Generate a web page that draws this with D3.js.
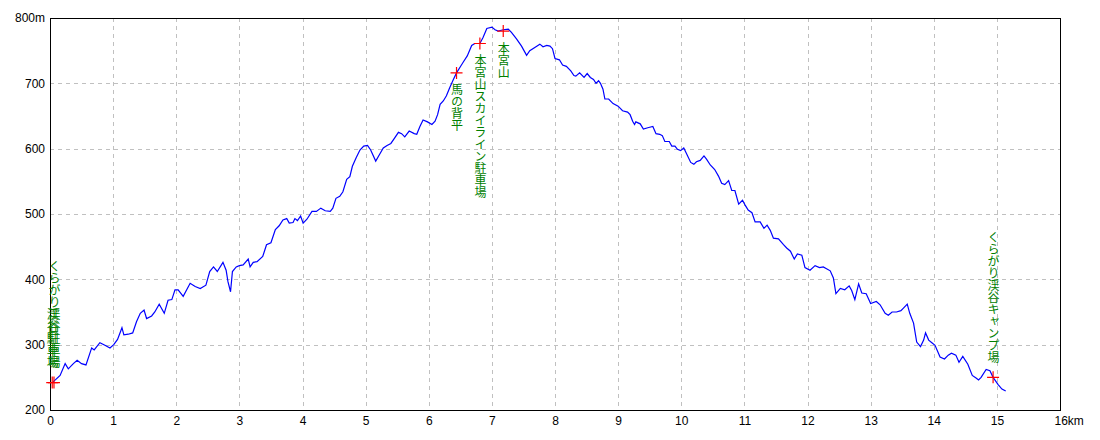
<!DOCTYPE html>
<html>
<head>
<meta charset="utf-8">
<script src="https://cdn.jsdelivr.net/npm/d3@7"></script>
<style>
  body { margin: 0; background: #fff; }
  svg { display: block; }
  .tick text { font-family: "Liberation Sans", Arial, sans-serif; font-size: 12px; fill: #000; }
  .grid line { stroke: #c0c0c0; stroke-dasharray: 4,4; shape-rendering: crispEdges; }
  .wp text { font-family: "Noto Sans CJK JP", sans-serif; font-size: 12px; fill: #008000;
             writing-mode: vertical-rl; text-orientation: upright; }
</style>
</head>
<body>
<svg id="vis" width="1100" height="440"></svg>
<script>
// distance (km) and elevation (m)
const distKm = [0.05,0.16,0.24,0.29,0.37,0.43,0.50,0.57,0.66,0.70,0.79,0.87,0.95,1.01,1.07,1.14,1.17,1.24,1.31,1.37,
  1.43,1.49,1.53,1.61,1.66,1.73,1.81,1.87,1.93,1.98,2.03,2.11,2.22,2.30,2.38,2.47,2.53,2.59,2.65,2.74,
  2.79,2.82,2.86,2.89,2.95,3.00,3.06,3.14,3.17,3.22,3.28,3.37,3.43,3.50,3.57,3.63,3.69,3.75,3.79,3.85,
  3.88,3.92,3.97,4.01,4.07,4.15,4.22,4.29,4.36,4.44,4.48,4.53,4.59,4.64,4.70,4.75,4.79,4.85,4.91,4.97,
  5.03,5.08,5.16,5.22,5.28,5.34,5.40,5.45,5.52,5.57,5.62,5.69,5.77,5.81,5.86,5.91,5.98,6.05,6.10,6.14,
  6.18,6.23,6.28,6.33,6.39,6.44,6.51,6.55,6.61,6.68,6.73,6.81,6.86,6.92,7.00,7.05,7.10,7.18,7.26,7.31,
  7.39,7.47,7.55,7.60,7.68,7.76,7.81,7.87,7.92,7.96,8.00,8.07,8.12,8.18,8.25,8.30,8.33,8.39,8.46,8.51,
  8.56,8.61,8.65,8.69,8.72,8.76,8.79,8.85,8.92,9.00,9.07,9.15,9.19,9.23,9.26,9.28,9.35,9.40,9.47,9.55,
  9.60,9.66,9.70,9.74,9.81,9.85,9.90,9.94,9.99,10.04,10.09,10.15,10.20,10.24,10.30,10.36,10.40,10.46,10.53,10.59,
  10.64,10.69,10.75,10.80,10.85,10.91,10.97,11.01,11.06,11.12,11.17,11.25,11.31,11.36,11.41,11.46,11.54,11.62,11.67,11.73,
  11.79,11.84,11.91,11.96,12.04,12.12,12.19,12.25,12.36,12.41,12.45,12.52,12.59,12.66,12.70,12.75,12.81,12.86,12.93,13.00,
  13.09,13.15,13.23,13.28,13.34,13.41,13.48,13.52,13.58,13.62,13.68,13.73,13.79,13.84,13.87,13.92,13.97,14.02,14.10,14.17,
  14.23,14.28,14.35,14.40,14.46,14.54,14.61,14.67,14.71,14.75,14.83,14.89,14.94,15.02,15.08,15.14]
const elevM = [243,253,271,263,271,276,271,269,295,292,303,299,295,300,308,326,315,316,318,335,
  348,353,340,344,350,362,348,368,369,384,384,374,394,389,386,391,412,419,412,426,
  414,396,381,412,419,421,422,431,419,426,427,435,453,456,476,482,491,493,486,487,
  493,490,497,486,492,504,504,509,505,504,509,524,527,534,553,557,573,586,598,604,
  605,598,581,591,601,605,608,615,625,623,618,627,623,622,634,644,641,637,642,652,
  668,673,681,693,706,716,727,733,742,758,761,761,770,784,786,782,780,782,783,778,
  768,757,743,750,755,760,756,758,757,753,738,736,728,726,719,712,711,716,709,715,
  709,706,700,704,700,691,676,676,669,665,658,656,652,642,637,641,638,630,632,634,
  623,622,620,611,611,604,604,599,597,601,591,579,576,580,582,589,584,575,568,558,
  547,545,551,536,536,515,521,514,506,502,488,488,478,483,475,463,462,453,448,443,
  431,439,437,418,414,421,418,419,413,402,378,386,384,390,383,369,393,379,378,363,
  366,361,348,345,350,350,352,356,362,348,333,304,297,307,318,307,303,299,281,278,
  284,287,284,273,282,270,253,249,246,250,262,260,250,239,232,229]

// waypoints
const wpNames = ["くらがり渓谷駐車場", "渓谷駐車場", "馬の背平", "本宮山スカイライン駐車場", "本宮山", "くらがり渓谷キャンプ場"]
const wpKm = [0.063, 0.035, 6.44, 6.81, 7.18, 14.94]
const wpElev = [242, 242, 716, 761, 780, 250]
const wpBelow = [false, false, true, true, true, false]

const xTicks = d3.range(0, 17)
const yTicks = [200, 300, 400, 500, 600, 700, 800]

const vis = d3.select("#vis")
const margin = { top: 18, right: 40, bottom: 30, left: 50 }
const width = +vis.attr("width") - margin.left - margin.right
const height = +vis.attr("height") - margin.top - margin.bottom

const g = vis.append("g").attr("transform", `translate(${margin.left},${margin.top})`)

const x = d3.scaleLinear().domain([0, 16]).range([0, width])
const y = d3.scaleLinear().domain([200, 800]).range([height, 0])

// grid
g.append("g").attr("class", "grid")
  .selectAll("line").data(xTicks.slice(1, -1)).join("line")
  .attr("x1", d => Math.round(x(d)) + 0.5).attr("x2", d => Math.round(x(d)) + 0.5)
  .attr("y1", 0).attr("y2", height)
g.append("g").attr("class", "grid")
  .selectAll("line").data(yTicks.slice(1, -1)).join("line")
  .attr("y1", d => Math.round(y(d)) + 0.5).attr("y2", d => Math.round(y(d)) + 0.5)
  .attr("x1", 0).attr("x2", width)

// axes (labels only)
const yAxis = d3.axisLeft(y).tickValues(yTicks).tickSize(0).tickPadding(5)
  .tickFormat(d => d === 800 ? "800m" : d)
g.append("g").call(yAxis).call(s => s.select(".domain").remove())

const xAxis = d3.axisBottom(x).tickValues(xTicks).tickSize(0).tickPadding(6)
  .tickFormat(d => d === 16 ? "16km" : d)
g.append("g").attr("transform", `translate(0,${height})`).call(xAxis)
  .call(s => s.select(".domain").remove())
  .call(s => s.selectAll(".tick text").filter(d => d === 16).attr("text-anchor", "start").attr("dx", -6))

// frame
g.append("rect").attr("x", 0.5).attr("y", 0.5).attr("width", width).attr("height", height)
  .attr("fill", "none").attr("stroke", "#000").attr("shape-rendering", "crispEdges")

// profile line
const line = d3.line().x((d, i) => x(distKm[i])).y(d => y(d))
g.append("path").datum(elevM)
  .attr("d", line)
  .attr("fill", "none").attr("stroke", "#0000ff").attr("stroke-width", 1.2)

// waypoints
const wp = g.append("g").attr("class", "wp")
wpNames.forEach((name, i) => {
  const px = x(wpKm[i]), py = y(wpElev[i])
  wp.append("path")
    .attr("d", `M${px - 6},${py}H${px + 6}M${px},${py - 6}V${py + 6}`)
    .attr("stroke", "#ff0000").attr("stroke-width", 1.2)
  wp.append("text")
    .attr("x", px + 0.5)
    .attr("y", wpBelow[i] ? py + 11 : py - 14)
    .attr("text-anchor", wpBelow[i] ? "start" : "end")
    .text(name)
})
</script>
</body>
</html>
